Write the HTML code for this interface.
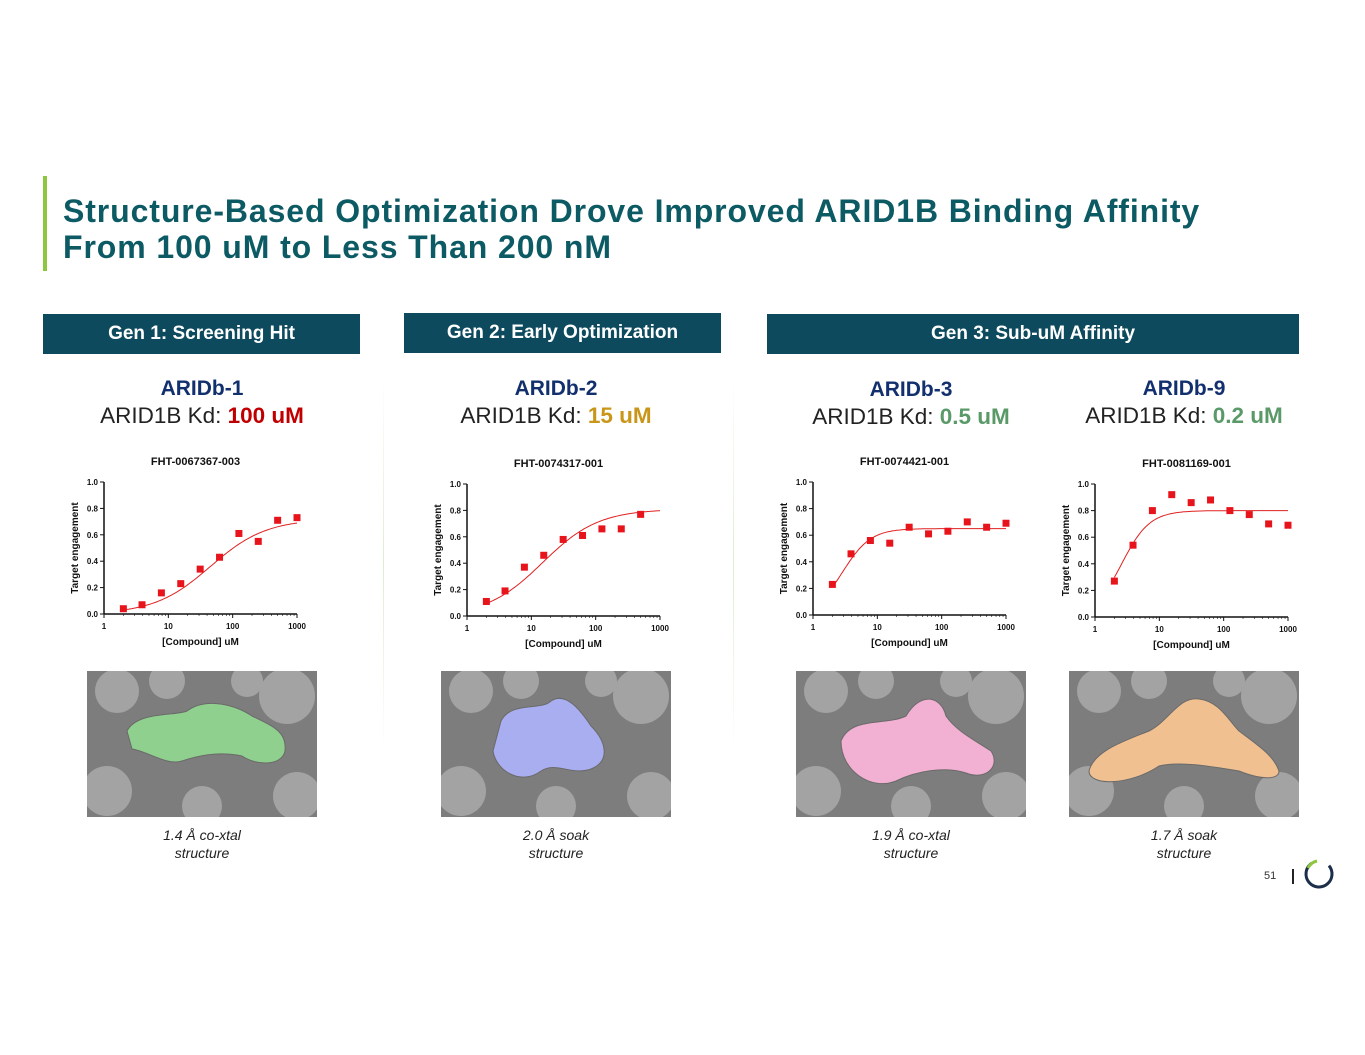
<!DOCTYPE html>
<html><head><meta charset="utf-8"><style>
body{margin:0;width:1365px;height:1055px;background:#fff;font-family:"Liberation Sans",Arial,sans-serif;position:relative;overflow:hidden}
.abs{position:absolute}
.title{left:63px;top:193px;font-size:32px;letter-spacing:0.9px;font-weight:bold;color:#0c5a63;line-height:36px;white-space:nowrap}
.hdr{background:#0d4a5e;color:#fff;font-weight:bold;font-size:19px;text-align:center;line-height:40px;height:40px}
.nm{font-weight:bold;color:#13306e;font-size:21px;text-align:center;width:260px}
.kd{font-size:22.5px;color:#222;text-align:center;width:300px}
.cap{font-style:italic;font-size:14px;color:#222;text-align:center;width:200px;line-height:18px}
svg text{font-family:"Liberation Sans",Arial,sans-serif}
</style></head><body>
<div class="abs" style="left:43px;top:176px;width:4px;height:95px;background:#8dc63f"></div>
<div class="abs title">Structure-Based Optimization Drove Improved ARID1B Binding Affinity<br>From 100 uM to Less Than 200 nM</div>
<div class="abs hdr" style="left:43px;top:314px;width:317px">Gen 1: Screening Hit</div>
<div class="abs hdr" style="left:404px;top:313px;width:317px">Gen 2: Early Optimization</div>
<div class="abs hdr" style="left:767px;top:314px;width:532px">Gen 3: Sub-uM Affinity</div>
<div class="abs" style="left:383px;top:380px;width:1px;height:370px;background:linear-gradient(#fff,#dfeccf,#fff)"></div>
<div class="abs" style="left:733px;top:380px;width:1px;height:370px;background:linear-gradient(#fff,#dfeccf,#fff)"></div>

<div class="abs nm" style="left:72px;top:377px">ARIDb-1</div>
<div class="abs kd" style="left:52px;top:403px">ARID1B Kd: <b style="color:#c00000">100 uM</b></div>
<div class="abs nm" style="left:426px;top:377px">ARIDb-2</div>
<div class="abs kd" style="left:406px;top:403px">ARID1B Kd: <b style="color:#c9961a">15 uM</b></div>
<div class="abs nm" style="left:781px;top:378px">ARIDb-3</div>
<div class="abs kd" style="left:761px;top:404px">ARID1B Kd: <b style="color:#5a9a68">0.5 uM</b></div>
<div class="abs nm" style="left:1054px;top:377px">ARIDb-9</div>
<div class="abs kd" style="left:1034px;top:403px">ARID1B Kd: <b style="color:#5a9a68">0.2 uM</b></div>

<svg id="charts" class="abs" style="left:0;top:0" width="1365" height="1055"></svg>

<div class="abs cap" style="left:102px;top:826px">1.4 Å co-xtal<br>structure</div>
<div class="abs cap" style="left:456px;top:826px">2.0 Å soak<br>structure</div>
<div class="abs cap" style="left:811px;top:826px">1.9 Å co-xtal<br>structure</div>
<div class="abs cap" style="left:1084px;top:826px">1.7 Å soak<br>structure</div>

<div class="abs" style="left:1264px;top:870px;font-size:11px;color:#333">51</div>
<div class="abs" style="left:1292px;top:869px;width:2px;height:15px;background:#222"></div>
<svg class="abs" style="left:1303px;top:858px" width="32" height="32">
<circle cx="16" cy="16" r="13" fill="none" stroke="#1c2f4a" stroke-width="3" stroke-dasharray="62 20" transform="rotate(-40 16 16)"/>
<path d="M5 10 A13 13 0 0 1 14 3" fill="none" stroke="#8dc63f" stroke-width="3"/>
</svg>

<script>
const conc = [2,3.9,7.8,15.6,31.25,62.5,125,250,500,1000];
const conc2 = [2,3.9,7.8,15.6,31.25,62.5,125,250,500];
const vals1 = [0.04,0.07,0.16,0.23,0.34,0.43,0.61,0.55,0.71,0.73];
const vals2 = [0.11,0.19,0.37,0.46,0.58,0.61,0.66,0.66,0.77];
const vals3 = [0.23,0.46,0.56,0.54,0.66,0.61,0.63,0.70,0.66,0.69];
const vals4 = [0.27,0.54,0.80,0.92,0.86,0.88,0.80,0.77,0.70,0.69];
const yTicks = [0,0.2,0.4,0.6,0.8,1.0];
const xTicks = [1,10,100,1000];
const titles = ["FHT-0067367-003","FHT-0074317-001","FHT-0074421-001","FHT-0081169-001"];
const fit1=[0,0.72,45,1.0], fit2=[0,0.81,15,1.0], fit3=[0,0.65,2.9,2.0], fit4=[0,0.80,2.6,2.0];
const NS="http://www.w3.org/2000/svg";
const svg=document.getElementById('charts');
function mk(t,a,p){const e=document.createElementNS(NS,t);for(const k in a)e.setAttribute(k,a[k]);(p||svg).appendChild(e);return e;}
const boxes=[{x0:104,x1:297,y0:614,y1:482},{x0:467,x1:660,y0:616,y1:484},{x0:813,x1:1006,y0:615,y1:482},{x0:1095,x1:1288,y0:617,y1:484}];
const series=[[conc,vals1,fit1],[conc2,vals2,fit2],[conc,vals3,fit3],[conc,vals4,fit4]];
boxes.forEach((b,i)=>{
  const g=mk('g',{});
  
  
  const xs=v=>b.x0+(Math.log10(v)/3)*(b.x1-b.x0);
  const ys=v=>b.y0+v*(b.y1-b.y0);
  const t=mk('text',{x:(b.x0+b.x1)/2-5,y:b.y1-17,'text-anchor':'middle','font-size':11,'font-weight':'bold',fill:'#111'},g);t.textContent=titles[i];
  
  mk('line',{x1:b.x0,y1:b.y0,x2:b.x0,y2:b.y1,stroke:'#111','stroke-width':1.5},g);
  mk('line',{x1:b.x0,y1:b.y0,x2:b.x1,y2:b.y0,stroke:'#111','stroke-width':1.5},g);
  yTicks.forEach(v=>{const y=ys(v);mk('line',{x1:b.x0-4,y1:y,x2:b.x0,y2:y,stroke:'#111'},g);
    const tt=mk('text',{x:b.x0-6,y:y+3,'text-anchor':'end','font-size':8,'font-weight':'bold',fill:'#111'},g);tt.textContent=v.toFixed(1);
    });
  xTicks.forEach(v=>{const x=xs(v);mk('line',{x1:x,y1:b.y0,x2:x,y2:b.y0+4,stroke:'#111'},g);
    const tt=mk('text',{x:x,y:b.y0+15,'text-anchor':'middle','font-size':8,'font-weight':'bold',fill:'#111'},g);tt.textContent=v;
    });
  for(let d=1;d<1000;d*=10)for(let k=2;k<10;k++){const x=xs(d*k);mk('line',{x1:x,y1:b.y0,x2:x,y2:b.y0+2,stroke:'#111','stroke-width':0.6},g);}
  const xl=mk('text',{x:(b.x0+b.x1)/2,y:b.y0+31,'text-anchor':'middle','font-size':10,'font-weight':'bold',fill:'#111'},g);xl.textContent='[Compound] uM';
  
  const cy=(b.y0+b.y1)/2;
  const yl=mk('text',{x:b.x0-26,y:cy,'text-anchor':'middle','font-size':10,'font-weight':'bold',fill:'#111',transform:`rotate(-90 ${b.x0-26} ${cy})`},g);yl.textContent='Target engagement';
  
  const [cx,vv,f]=series[i];
  const hill=c=>f[0]+(f[1]-f[0])/(1+Math.pow(f[2]/c,f[3]));
  let d='';for(let k=0;k<=100;k++){const lc=Math.log10(2)+k/100*(3-Math.log10(2));const c=Math.pow(10,lc);d+=(k?'L':'M')+xs(c).toFixed(1)+' '+ys(hill(c)).toFixed(1);}
  const p=mk('path',{d:d,fill:'none',stroke:'#e02020','stroke-width':1},g);
  
  cx.forEach((c,j)=>{const r=mk('rect',{x:xs(c)-3.5,y:ys(vv[j])-3.5,width:7,height:7,fill:'#e8141c'},g);
    });
});
const imgs=[[87,'#8fd08f'],[441,'#a9aef0'],[796,'#f2b0d2'],[1069,'#f0c090']];
const blobs=["M40 60 C50 40 90 45 100 40 C120 25 150 35 165 45 C185 55 200 60 198 80 C195 95 170 95 155 85 C130 80 110 85 95 90 C80 95 60 80 45 78 Z",
"M60 50 C70 30 100 40 110 30 C125 20 140 40 150 55 C165 70 170 90 150 98 C130 105 115 90 100 100 C80 115 55 100 52 80 Z",
"M45 70 C55 45 90 55 110 45 C125 20 145 25 150 45 C160 60 180 70 195 80 C205 95 190 110 170 102 C150 95 120 100 100 110 C75 120 45 100 45 70 Z",
"M20 100 C25 80 55 70 80 60 C100 50 110 25 130 28 C150 30 160 50 170 60 C190 75 205 85 210 100 C210 110 190 108 170 100 C140 95 110 90 90 95 C60 115 20 115 20 100 Z"];
imgs.forEach(([x,c],i)=>{
  const g=mk('g',{transform:`translate(${x},671)`});
  
  
  mk('rect',{x:0,y:0,width:230,height:146,fill:'#7d7d7d'},g);
  const gc=mk('g',{},g);
  mk('clipPath',{id:'cp'+i},g).appendChild(Object.assign(document.createElementNS(NS,'rect'),{}));
  [[30,20,22],[200,25,28],[20,120,25],[210,125,24],[115,135,20],[80,10,18],[160,10,16]].forEach(([a,b2,r])=>mk('circle',{cx:a,cy:b2,r:r,fill:'#a3a3a3'},gc));
  mk('path',{d:blobs[i],fill:c,stroke:'#6a6a6a','stroke-width':1},g);
  const cr=g.querySelector('clipPath rect');
  cr.setAttribute('width',230);cr.setAttribute('height',146);
  gc.setAttribute('clip-path','url(#cp'+i+')');
});
</script>
</body></html>
